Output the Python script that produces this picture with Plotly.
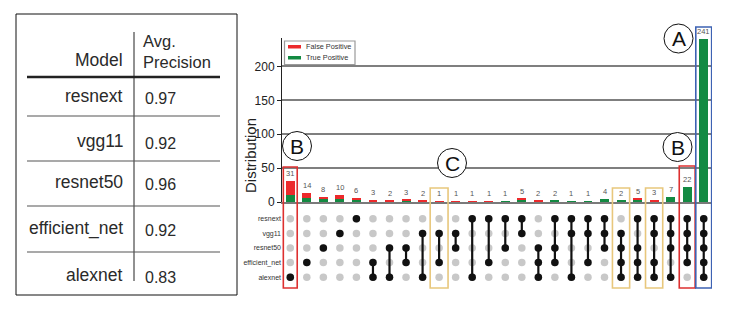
import plotly.graph_objects as go

W, H = 747, 310
FONT = "Liberation Sans, Arial, Helvetica, sans-serif"

# ---------------- data ----------------
models = ["resnext", "vgg11", "resnet50", "efficient_net", "alexnet"]
avg_precision = ["0.97", "0.92", "0.96", "0.92", "0.83"]

intersections = [
    ["alexnet"],
    ["efficient_net"],
    ["resnet50"],
    ["vgg11"],
    ["resnext"],
    ["efficient_net", "alexnet"],
    ["resnet50", "alexnet"],
    ["resnet50", "efficient_net"],
    ["vgg11", "alexnet"],
    ["vgg11", "efficient_net"],
    ["vgg11", "resnet50"],
    ["resnext", "alexnet"],
    ["resnext", "efficient_net"],
    ["resnext", "resnet50"],
    ["resnext", "vgg11"],
    ["resnet50", "efficient_net", "alexnet"],
    ["resnext", "resnet50", "efficient_net"],
    ["resnext", "vgg11", "alexnet"],
    ["resnext", "vgg11", "efficient_net"],
    ["resnext", "vgg11", "resnet50"],
    ["vgg11", "resnet50", "efficient_net", "alexnet"],
    ["resnext", "resnet50", "efficient_net", "alexnet"],
    ["resnext", "vgg11", "efficient_net", "alexnet"],
    ["resnext", "vgg11", "resnet50", "alexnet"],
    ["resnext", "vgg11", "resnet50", "efficient_net"],
    ["resnext", "vgg11", "resnet50", "efficient_net", "alexnet"],
]
totals = [31, 14, 8, 10, 6, 3, 2, 3, 2, 1, 1, 1, 1, 1, 5, 2, 2, 1, 1, 4, 2, 5, 3, 7, 22, 241]
true_positive = [11, 6, 4, 4, 4, 0, 0, 2, 0, 0, 0, 0, 0, 1, 3, 0, 2, 1, 1, 4, 2, 3, 1, 7, 22, 241]
false_positive = [t - g for t, g in zip(totals, true_positive)]

y_ticks = [0, 50, 100, 150, 200]

# highlight boxes: (column index, colour, top pixel)
highlights = [(0, "#dd3030", 167), (9, "#e8c77c", 188), (20, "#e8c77c", 188),
              (22, "#e8c77c", 188), (24, "#dd3030", 166), (25, "#3d62b3", 27)]
highlight_half = {0: 0.42, 9: 0.54, 20: 0.52, 22: 0.52, 24: 0.48, 25: 0.48}
# circled letters: (letter, cx, cy)
callouts = [("A", 678.5, 38.5), ("B", 297, 146), ("B", 677.5, 147), ("C", 452, 163)]

RED = "#ec2a2c"
GREEN = "#138a42"


def px(x):
    return x / W


def py(y):
    return 1 - y / H


xs = list(range(len(totals)))
row_y = {m: len(models) - 1 - i for i, m in enumerate(models)}

fig = go.Figure()

# stacked bars
fig.add_trace(go.Bar(x=xs, y=true_positive, marker_color=GREEN, width=0.54,
                     marker_line_width=0, name="True Positive",
                     xaxis="x", yaxis="y", showlegend=False, hoverinfo="skip"))
fig.add_trace(go.Bar(x=xs, y=false_positive, marker_color=RED, width=0.54,
                     marker_line_width=0, name="False Positive",
                     xaxis="x", yaxis="y", showlegend=False, hoverinfo="skip"))

# matrix: grey dots
gx, gy = [], []
for i in xs:
    for m in models:
        gx.append(i)
        gy.append(row_y[m])
fig.add_trace(go.Scatter(x=gx, y=gy, mode="markers",
                         marker=dict(size=7.5, color="#c8c8c8"),
                         xaxis="x2", yaxis="y2", showlegend=False, hoverinfo="skip"))
# connecting lines
lx, ly = [], []
for i, mem in enumerate(intersections):
    ys = [row_y[m] for m in mem]
    if len(ys) > 1:
        lx += [i, i, None]
        ly += [min(ys), max(ys), None]
fig.add_trace(go.Scatter(x=lx, y=ly, mode="lines",
                         line=dict(color="#111111", width=2.2),
                         xaxis="x2", yaxis="y2", showlegend=False, hoverinfo="skip"))
bx, by = [], []
for i, mem in enumerate(intersections):
    for m in mem:
        bx.append(i)
        by.append(row_y[m])
fig.add_trace(go.Scatter(x=bx, y=by, mode="markers",
                         marker=dict(size=7.5, color="#111111"),
                         xaxis="x2", yaxis="y2", showlegend=False, hoverinfo="skip"))

annotations = []
shapes = []


def txt(x, y, text, size, color="#2a2a2a", xanchor="center", angle=0, align="center"):
    return dict(x=px(x), y=py(y), xref="paper", yref="paper", text=text,
                showarrow=False, xanchor=xanchor, yanchor="middle", textangle=angle,
                align=align, font=dict(size=size, color=color, family=FONT))


# bar value labels
for i, t in enumerate(totals):
    annotations.append(dict(x=i, y=t, xref="x", yref="y", text=str(t), showarrow=False,
                            xanchor="center", yanchor="bottom", yshift=1,
                            font=dict(size=7.5, color="#555555", family=FONT)))

# axis title
annotations.append(txt(251, 156, "Distribution", 15, "#222222", angle=-90))

# legend (drawn)
shapes.append(dict(type="rect", xref="paper", yref="paper",
                   x0=px(284.5), x1=px(355), y0=py(41), y1=py(64.5),
                   line=dict(color="#9a9a9a", width=1.2), fillcolor="white"))
shapes.append(dict(type="rect", xref="paper", yref="paper",
                   x0=px(288), x1=px(301), y0=py(45), y1=py(48.5),
                   line=dict(width=0), fillcolor=RED))
shapes.append(dict(type="rect", xref="paper", yref="paper",
                   x0=px(288), x1=px(301), y0=py(56), y1=py(59.5),
                   line=dict(width=0), fillcolor=GREEN))
annotations.append(txt(304, 46.8, "False Positive", 7.3, "#333333", xanchor="left"))
annotations.append(txt(304, 57.8, "True Positive", 7.3, "#333333", xanchor="left"))

# highlight boxes
for col, colr, top in highlights:
    h = highlight_half[col]
    shapes.append(dict(type="rect", xref="x", yref="paper",
                       x0=col - h, x1=col + h, y0=py(288), y1=py(top),
                       line=dict(color=colr, width=1.6), fillcolor="rgba(0,0,0,0)"))

# circled letters
for letter, cx, cy in callouts:
    r = 14.5
    shapes.append(dict(type="circle", xref="paper", yref="paper",
                       x0=px(cx - r), x1=px(cx + r), y0=py(cy + r), y1=py(cy - r),
                       line=dict(color="#111111", width=1), fillcolor="white"))
    annotations.append(txt(cx, cy + 0.5, letter, 21, "#111111"))

# ---------------- table ----------------
shapes.append(dict(type="rect", xref="paper", yref="paper",
                   x0=px(16), x1=px(237), y0=py(295), y1=py(14),
                   line=dict(color="#111111", width=1)))
shapes.append(dict(type="line", xref="paper", yref="paper",
                   x0=px(134), x1=px(134), y0=py(32), y1=py(281),
                   line=dict(color="#222222", width=1)))
shapes.append(dict(type="line", xref="paper", yref="paper",
                   x0=px(27), x1=px(220), y0=py(77), y1=py(77),
                   line=dict(color="#222222", width=2.5)))
for yline in [116, 161, 206, 252]:
    shapes.append(dict(type="line", xref="paper", yref="paper",
                       x0=px(27), x1=px(220), y0=py(yline), y1=py(yline),
                       line=dict(color="#555555", width=1.2)))

TS = 17.5
annotations.append(txt(125, 60, "Model", TS, xanchor="right"))
annotations.append(txt(141, 51.5, "Avg.<br>Precision", 16.5, xanchor="left", align="left"))
row_centers = [96, 141, 182, 228, 275]
for m, v, yc in zip(models, avg_precision, row_centers):
    annotations.append(txt(125, yc, m, TS, xanchor="right"))
    annotations.append(txt(143, yc + 2, v, 16, xanchor="left"))

xdom = [px(282), px(712)]
fig.update_layout(
    width=W, height=H,
    margin=dict(l=0, r=0, t=0, b=0, autoexpand=False),
    paper_bgcolor="white", plot_bgcolor="white",
    barmode="stack", bargap=0.4,
    font=dict(family=FONT),
    xaxis=dict(domain=xdom, range=[-0.5, 25.5], showticklabels=False, ticks="",
               showgrid=False, zeroline=False, showline=True,
               linecolor="#7a7a7a", linewidth=1.5, anchor="y"),
    yaxis=dict(domain=[py(202), py(38)], range=[0, 242], tickvals=y_ticks,
               ticks="outside", ticklen=4, tickcolor="#222222",
               tickfont=dict(size=12, color="#222222", family=FONT),
               showgrid=True, gridcolor="#7f7f7f", gridwidth=1.5,
               zeroline=False, showline=True, linecolor="#222222", linewidth=1,
               anchor="x"),
    xaxis2=dict(domain=xdom, range=[-0.5, 25.5], matches="x", showticklabels=False,
                ticks="", showgrid=False, zeroline=False, showline=False, anchor="y2"),
    yaxis2=dict(domain=[py(286), py(210)], range=[-0.6, 4.6],
                tickvals=[row_y[m] for m in models], ticktext=models,
                ticks="", tickfont=dict(size=7, color="#333333", family=FONT),
                showgrid=False, zeroline=False, showline=False, anchor="x2"),
    shapes=shapes, annotations=annotations,
)

fig.write_html("out.html", config={"displayModeBar": False},
               post_script="document.body.style.margin='0';document.body.style.overflow='hidden';")
